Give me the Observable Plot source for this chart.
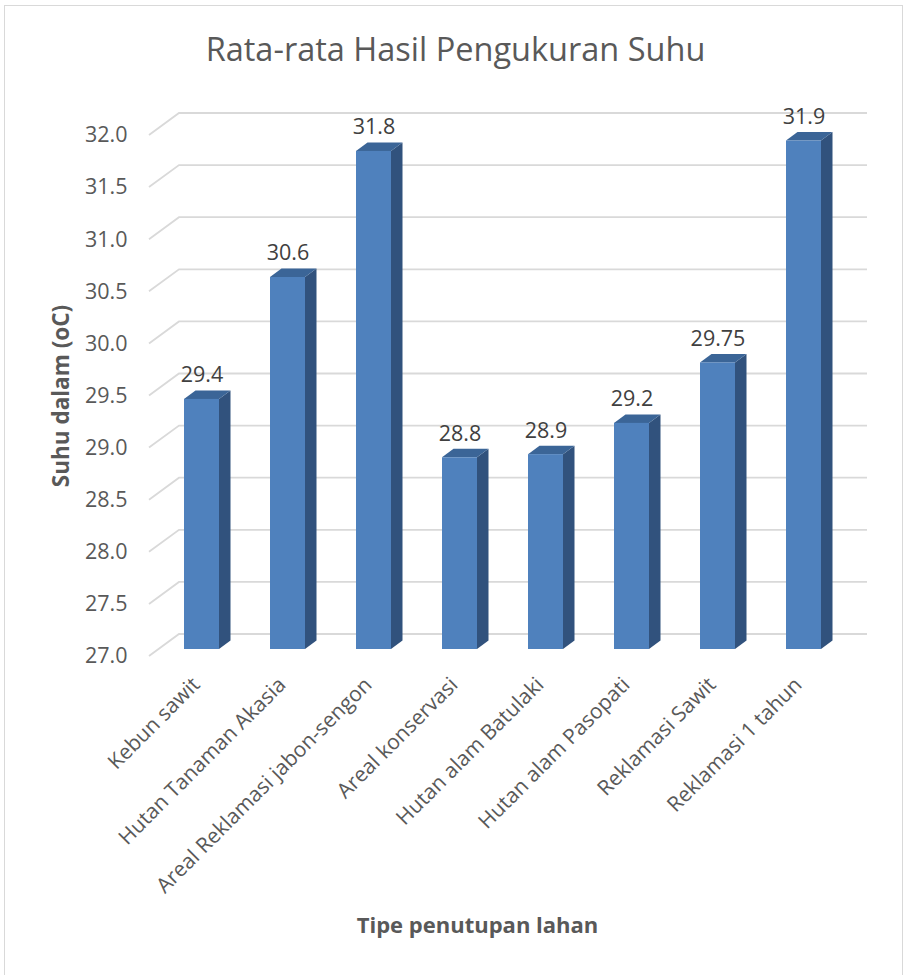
<!DOCTYPE html>
<html>
<head>
<meta charset="utf-8">
<script src="https://cdn.jsdelivr.net/npm/d3@7"></script>
<script src="https://cdn.jsdelivr.net/npm/@observablehq/plot@0.6"></script>
<style>
  html, body { margin: 0; padding: 0; background: #fff; }
  #wrap { position: relative; width: 906px; height: 975px; overflow: hidden; }
  #border { position: absolute; left: 4px; top: 5px; width: 899px; height: 990px; border: 1.5px solid #d9d9d9; box-sizing: border-box; }
  #chart { position: absolute; left: 0; top: 0; }
</style>
</head>
<body>
<div id="wrap"><div id="border"></div><div id="chart"></div></div>
<script>
const categories = [
  "Kebun sawit",
  "Hutan Tanaman Akasia",
  "Areal Reklamasi jabon-sengon",
  "Areal konservasi",
  "Hutan alam Batulaki",
  "Hutan alam Pasopati",
  "Reklamasi Sawit",
  "Reklamasi 1 tahun"
];
const values = [29.4, 30.57, 31.78, 28.84, 28.87, 29.17, 29.75, 31.88];
const valueLabels = ["29.4", "30.6", "31.8", "28.8", "28.9", "29.2", "29.75", "31.9"];
const yTicks = [27, 27.5, 28, 28.5, 29, 29.5, 30, 30.5, 31, 31.5, 32];
const yTickLabels = ["27.0", "27.5", "28.0", "28.5", "29.0", "29.5", "30.0", "30.5", "31.0", "31.5", "32.0"];
const chartTitle = "Rata-rata Hasil Pengukuran Suhu";
const yTitle = "Suhu dalam (oC)";
const xTitle = "Tipe penutupan lahan";

const yBase = yTicks[0];
const rows = categories.map((c, i) => ({cat: c, base: yBase, value: values[i], label: valueLabels[i]}));

// 3D geometry (pixels)
const DEPTH_X = 30, DEPTH_Y = -22;       // floor/wall depth
const BAR_OFF_X = 9.5, BAR_OFF_Y = -7;   // bar front plane offset from axis plane
const BAR_DX = 11.5, BAR_DY = -8.5;      // bar thickness (side/top)
const BAR_W = 35;

const W = 906, H = 975;
const mL = 149, mR = 69, mT = 135, mB = 319;
const FONT = "'Open Sans', sans-serif";
const TXT = "#595959";

function gridRender(index, scales, vals, dims) {
  const g = d3.create("svg:g");
  const left = dims.marginLeft, right = dims.width - dims.marginRight;
  for (const i of index) {
    const y = vals.y[i];
    g.append("path")
      .attr("d", `M${left},${y}L${left + DEPTH_X},${y + DEPTH_Y}L${right + DEPTH_X},${y + DEPTH_Y}`)
      .attr("fill", "none")
      .attr("stroke", "#d9d9d9")
      .attr("stroke-width", 1.8);
  }
  return g.node();
}

function barsRender(index, scales, vals, dims) {
  const g = d3.create("svg:g");
  const bw = (dims.width - dims.marginLeft - dims.marginRight) / categories.length;
  for (const i of index) {
    const x0 = vals.x[i] + (bw - BAR_W) / 2 + BAR_OFF_X;
    const x1 = x0 + BAR_W;
    const yt = vals.y2[i] + BAR_OFF_Y;
    const yb = vals.y1[i] + BAR_OFF_Y;
    g.append("path")
      .attr("d", `M${x1},${yt}L${x1 + BAR_DX},${yt + BAR_DY}L${x1 + BAR_DX},${yb + BAR_DY}L${x1},${yb}Z`)
      .attr("fill", "#31527d");
    g.append("path")
      .attr("d", `M${x0},${yt}L${x0 + BAR_DX},${yt + BAR_DY}L${x1 + BAR_DX},${yt + BAR_DY}L${x1},${yt}Z`)
      .attr("fill", "#3b6597");
    g.append("rect")
      .attr("x", x0).attr("y", yt).attr("width", BAR_W).attr("height", yb - yt)
      .attr("fill", "#4f81bd");
  }
  return g.node();
}

const plot = Plot.plot({
  width: W,
  height: H,
  marginLeft: mL,
  marginRight: mR,
  marginTop: mT,
  marginBottom: mB,
  style: {background: "transparent", fontFamily: FONT, overflow: "visible"},
  x: {type: "band", domain: categories, padding: 0, axis: null},
  y: {domain: [yTicks[0], yTicks[yTicks.length - 1]], axis: null},
  marks: [
    Plot.ruleY(yTicks, {y: d => d, render: gridRender}),
    Plot.barY(rows, {x: "cat", y1: "base", y2: "value", render: barsRender}),
    Plot.text(rows, {x: "cat", y: "value", text: "label", dx: BAR_OFF_X, dy: -31, fontSize: 21.5, fill: "#404040", fontFamily: FONT}),
    Plot.text(yTicks, {y: d => d, text: (d, i) => yTickLabels[i], frameAnchor: "left", textAnchor: "end", lineAnchor: "middle", dx: -22, fontSize: 21.5, fill: TXT, fontFamily: FONT}),
    Plot.text(categories, {x: d => d, text: d => d, frameAnchor: "bottom", rotate: -45, textAnchor: "end", lineAnchor: "top", dx: -2, dy: 19, fontSize: 21, fill: TXT, fontFamily: FONT}),
    Plot.text([yTitle], {text: d => d, frameAnchor: "left", rotate: -90, textAnchor: "middle", lineAnchor: "middle", dx: -88, fontSize: 22.5, fontWeight: "bold", fill: TXT, fontFamily: FONT}),
    Plot.text([xTitle], {text: d => d, frameAnchor: "bottom", textAnchor: "middle", lineAnchor: "middle", dx: -16, dy: 269, fontSize: 22, fontWeight: "bold", fill: TXT, fontFamily: FONT}),
    Plot.text([chartTitle], {text: d => d, frameAnchor: "top", textAnchor: "middle", lineAnchor: "middle", dx: -38, dy: -85, fontSize: 32.5, fill: TXT, fontFamily: FONT})
  ]
});
document.getElementById("chart").appendChild(plot);
</script>
</body>
</html>
